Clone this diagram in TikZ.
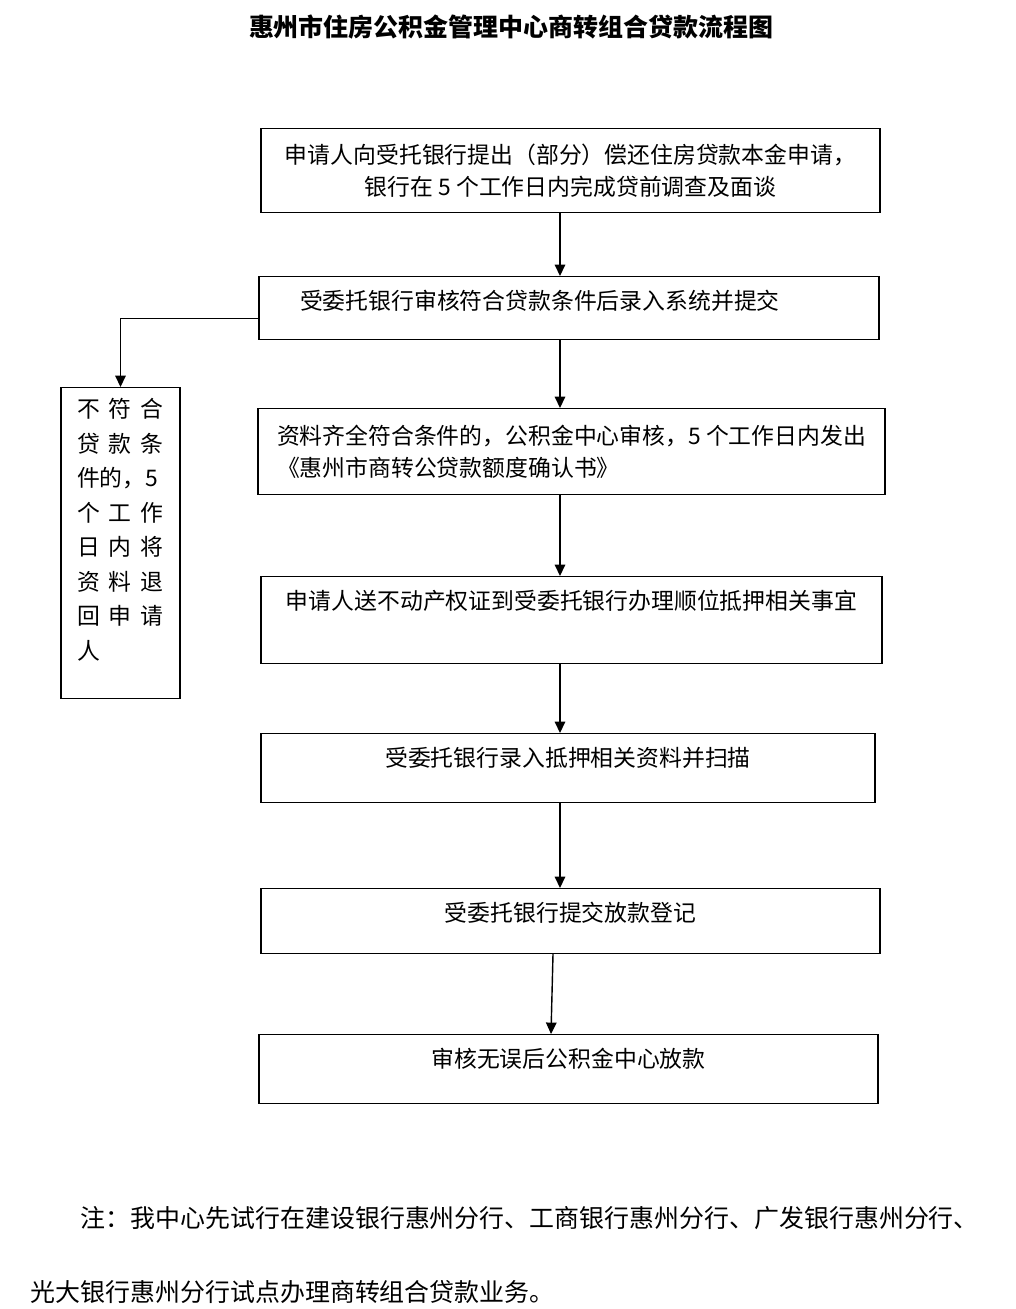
\documentclass[tikz,border=0pt]{standalone}
\usepackage{fontspec}
\newfontfamily\cjk{Noto Sans CJK SC}
\usetikzlibrary{arrows.meta}
\newcommand\colgap{\hspace{0.18cm}}
\begin{document}
\begin{tikzpicture}[
  x=0.02cm, y=-0.02cm,
  every node/.style={font=\cjk\fontsize{13pt}{18.1pt}\selectfont, inner sep=0pt},
  stepbox/.style={draw, line width=0.8pt, anchor=north, minimum width=12.38cm, inner xsep=0.2cm},
  topbox/.style={stepbox, text height=18.5pt, text depth=#1},
  line width=0.8pt, >={Triangle[length=6.5pt,width=6pt]}
]
  \useasboundingbox (0,0) rectangle (1016,1309);
  \coordinate (spine) at (560,0);

  \node[font=\cjk\bfseries\fontsize{14.2pt}{17pt}\selectfont] (title) at (511,27) {惠州市住房公积金管理中心商转组合贷款流程图};

  \node[stepbox, minimum height=1.68cm, align=center] (apply) at (570.5,128) {申请人向受托银行提出（部分）偿还住房贷款本金申请，\\银行在 5 个工作日内完成贷前调查及面谈};
  \node[topbox=17.2pt, minimum width=12.4cm, text width=10.76cm, inner xsep=0.82cm, align=left] (check) at (569,276) {受委托银行审核符合贷款条件后录入系统并提交};
  \node[stepbox, minimum width=12.54cm, minimum height=1.72cm, align=left] (verify) at (571.5,408) {资料齐全符合条件的，公积金中心审核，5 个工作日内发出\\《惠州市商转公贷款额度确认书》};
  \node[topbox=30.8pt, minimum width=12.42cm] (pledge) at (571.5,576) {申请人送不动产权证到受委托银行办理顺位抵押相关事宜};
  \node[topbox=20.6pt, minimum width=12.28cm] (scan) at (568,733) {受委托银行录入抵押相关资料并扫描};
  \node[topbox=18.3pt] (submit) at (570.5,888) {受委托银行提交放款登记};
  \node[topbox=20.6pt] (release) at (568.5,1034) {审核无误后公积金中心放款};

  \node[draw, line width=0.8pt, anchor=north, inner xsep=0.32cm,
        font=\cjk\fontsize{13pt}{19.6pt}\selectfont] (reject) at (120.5,387)
    {\parbox[c][6.22cm][t]{1.74cm}{\raggedright\vspace*{0.22cm}
     不\colgap 符\colgap 合\\贷\colgap 款\colgap 条\\件的，5\\个\colgap 工\colgap 作\\日\colgap 内\colgap 将\\资\colgap 料\colgap 退\\回\colgap 申\colgap 请\\人}};

  \draw[->] (apply.south -| spine) -- (check.north -| spine);
  \draw[->] ([yshift=-0.21cm]check.west) -| (reject.north);
  \draw[->] (check.south -| spine) -- (verify.north -| spine);
  \draw[->] (verify.south -| spine) -- (pledge.north -| spine);
  \draw[->] (pledge.south -| spine) -- (scan.north -| spine);
  \draw[->] (scan.south -| spine) -- (submit.north -| spine);
  \draw[->] ([xshift=-0.35cm]submit.south) -- ([xshift=-0.35cm]release.north);

  \node[anchor=west, font=\cjk\fontsize{14.2pt}{17pt}\selectfont] (note1) at (80,1218) {注：我中心先试行在建设银行惠州分行、工商银行惠州分行、广发银行惠州分行、};
  \node[anchor=west, font=\cjk\fontsize{14.2pt}{17pt}\selectfont] (note2) at (30,1292) {光大银行惠州分行试点办理商转组合贷款业务。};
\end{tikzpicture}
\end{document}
